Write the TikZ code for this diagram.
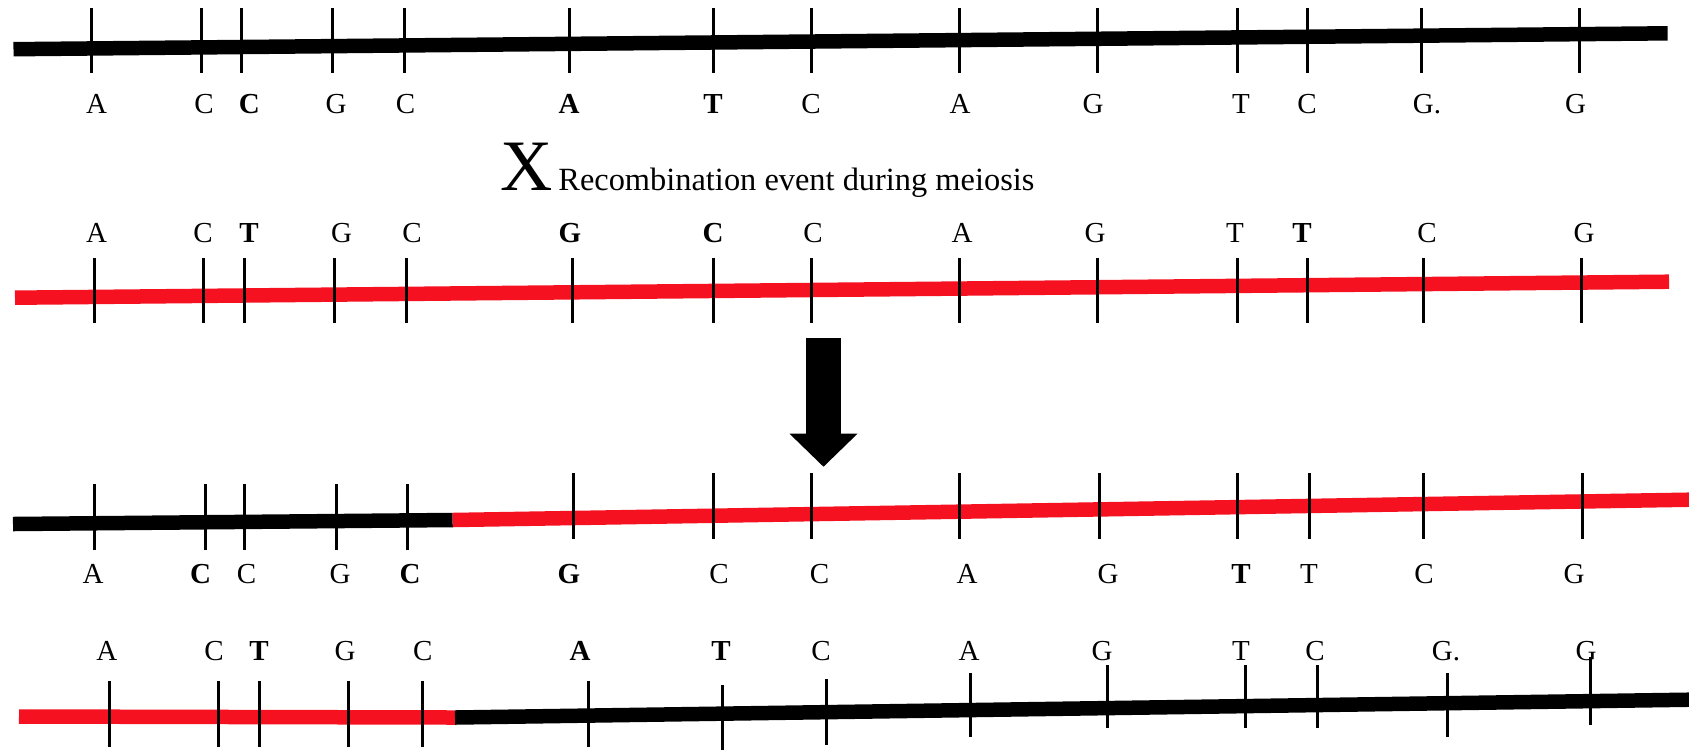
\documentclass[tikz,border=0pt]{standalone}
\usepackage{fontspec}
\setmainfont{Liberation Serif}
\usetikzlibrary{arrows.meta}
\definecolor{dnared}{RGB}{245,17,32}
\begin{document}
\begin{tikzpicture}[x=0.5pt,y=-0.5pt,
  strand/.style={line width=7.25pt,preaction={draw=black!25,opacity=0.6,transform canvas={yshift=-1.2pt}}},
  tick/.style={line width=1.5pt},
  lbl/.style={inner sep=0pt,anchor=base,font=\fontsize{14.5}{16}\selectfont},
  lblb/.style={lbl,font=\fontsize{14.5}{16}\selectfont\bfseries}]
\useasboundingbox (0,0) rectangle (1689,751);

% ---------- row 1 : black ----------
\coordinate (r1a) at (13.5,49.2);
\coordinate (r1b) at (1667.6,33.3);
\draw[strand,black] (r1a) -- (r1b);
\foreach \x in {91,201,241,332,404,569,713,811,959,1097,1237,1307,1421,1579}
  \draw[tick] (\x,8) -- (\x,73);
\foreach \x/\t/\s [count=\i] in {96.5/A/lbl,204/C/lbl,249.3/C/lblb,336/G/lbl,405.5/C/lbl,569/A/lblb,713/T/lblb,811/C/lbl,960/A/lbl,1093/G/lbl,1241/T/lbl,1307/C/lbl,1427/G./lbl,1575.5/G/lbl}
  \node[\s] (a\i) at (\x,113) {\t};

% ---------- recombination label ----------
\node[anchor=base west,inner sep=0pt,font=\fontsize{36.2}{40}\selectfont] (X) at (500,190) {X};
\node[anchor=base west,inner sep=0pt,font=\fontsize{16.2}{18}\selectfont] (rec) at (558,190) {Recombination event during meiosis};

% ---------- row 2 : red ----------
\coordinate (r2a) at (15,297.7);
\coordinate (r2b) at (1669,281.7);
\draw[strand,dnared] (r2a) -- (r2b);
\foreach \x in {94,203,244,334,406,572,713,811,959,1097,1237,1307,1423,1581}
  \draw[tick] (\x,258) -- (\x,323);
\foreach \x/\t/\s [count=\i] in {96.5/A/lbl,203/C/lbl,249/T/lblb,341.5/G/lbl,412/C/lbl,570/G/lblb,713/C/lblb,813/C/lbl,962/A/lbl,1095/G/lbl,1235/T/lbl,1302/T/lblb,1427/C/lbl,1584/G/lbl}
  \node[\s] (b\i) at (\x,242.7) {\t};

% ---------- arrow ----------
\coordinate (atop) at (823.5,338);
\coordinate (atip) at (823.5,466.7);
\draw[line width=17.5pt,-{Triangle[width=34pt,length=16.5pt,line width=0pt]}] (atop) -- (atip);

% ---------- row 3 : black then red ----------
\coordinate (r3a) at (13,524);
\coordinate (r3m) at (452.7,520);
\coordinate (r3b) at (1689,499.7);
\draw[strand,black] (r3a) -- (r3m);
\draw[strand,dnared] (r3m) -- (r3b);
\foreach \x in {94,205,244,336,407}
  \draw[tick] (\x,484) -- (\x,550);
\foreach \x in {573,713,811,959,1099,1237,1309,1423,1582}
  \draw[tick] (\x,473) -- (\x,539);
\foreach \x/\t/\s [count=\i] in {93/A/lbl,200.5/C/lblb,246.6/C/lbl,340/G/lbl,410/C/lblb,569/G/lblb,719/C/lbl,819.5/C/lbl,967/A/lbl,1108/G/lbl,1241/T/lblb,1309/T/lbl,1424/C/lbl,1574/G/lbl}
  \node[\s] (c\i) at (\x,583.3) {\t};

% ---------- row 4 : red then black ----------
\coordinate (r4a) at (19,716.5);
\coordinate (r4m) at (455,717.5);
\coordinate (r4b) at (1689,699.7);
\draw[strand,dnared] (r4a) -- (r4m);
\draw[strand,black] (r4m) -- (r4b);
\foreach \x/\ya/\yb in {109.5/681/747,218.4/681/747,259/681/747,348.5/681/747,422/681/747,588.5/681/747,722/685/750,826.6/679/745,970/673/737,1107/665/728,1245/665/728,1317.5/665/728,1447/673/737,1590/657/725}
  \draw[tick] (\x,\ya) -- (\x,\yb);
\foreach \x/\t/\s [count=\i] in {106.8/A/lbl,214/C/lbl,259/T/lblb,345/G/lbl,422.8/C/lbl,580/A/lblb,721/T/lblb,821/C/lbl,969/A/lbl,1102/G/lbl,1241/T/lbl,1315/C/lbl,1446/G./lbl,1586/G/lbl}
  \node[\s] (d\i) at (\x,660) {\t};
\end{tikzpicture}
\end{document}
